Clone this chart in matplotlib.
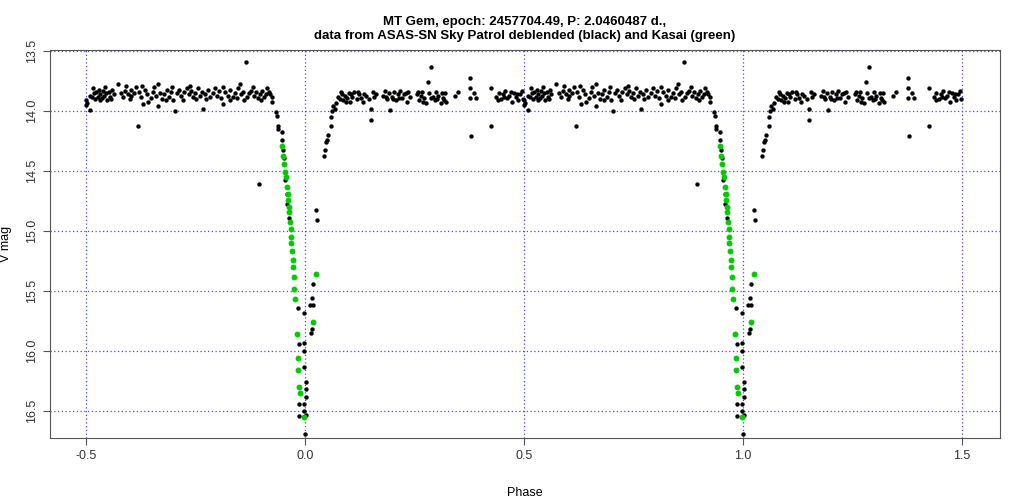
import numpy as np
import matplotlib
matplotlib.use('Agg')
import matplotlib.pyplot as plt

plt.rcParams['font.family'] = ['Liberation Sans', 'DejaVu Sans']

# ASAS-SN (black), phase in [-0.5, 0.5)
plateau_left = [
    (-0.500, 13.91), (-0.499, 13.95), (-0.497, 13.93), (-0.491, 13.87), (-0.490, 13.99), (-0.486, 13.88),
    (-0.482, 13.85), (-0.479, 13.90), (-0.476, 13.84), (-0.473, 13.88), (-0.470, 13.82), (-0.467, 13.86),
    (-0.464, 13.89), (-0.461, 13.83), (-0.458, 13.87), (-0.455, 13.85), (-0.452, 13.91), (-0.448, 13.84),
    (-0.445, 13.88), (-0.441, 13.82), (-0.437, 13.86), (-0.426, 13.77), (-0.421, 13.85), (-0.415, 13.88),
    (-0.411, 13.83), (-0.405, 13.86), (-0.400, 13.90), (-0.396, 13.82), (-0.391, 13.85), (-0.386, 13.80),
    (-0.381, 14.12), (-0.378, 13.84), (-0.374, 13.88), (-0.369, 13.94), (-0.366, 13.82), (-0.361, 13.86),
    (-0.352, 13.89), (-0.346, 13.84), (-0.340, 13.87), (-0.335, 13.77), (-0.335, 13.96), (-0.331, 13.85),
    (-0.326, 13.90), (-0.321, 13.86), (-0.316, 13.82), (-0.311, 13.88), (-0.306, 13.84), (-0.301, 13.91),
    (-0.297, 14.00), (-0.293, 13.85), (-0.288, 13.82), (-0.282, 13.87), (-0.275, 13.84), (-0.270, 13.81),
    (-0.265, 13.86), (-0.260, 13.83), (-0.255, 13.88), (-0.250, 13.85), (-0.245, 13.81), (-0.240, 13.87),
    (-0.236, 13.84), (-0.232, 13.98), (-0.228, 13.86), (-0.222, 13.82), (-0.216, 13.88), (-0.210, 13.85),
    (-0.201, 13.87), (-0.196, 13.83), (-0.191, 13.89), (-0.186, 13.94), (-0.182, 13.84), (-0.176, 13.87),
    (-0.170, 13.82), (-0.165, 13.88), (-0.160, 13.85), (-0.156, 13.89), (-0.149, 13.77), (-0.146, 13.86),
    (-0.141, 13.84), (-0.135, 13.59), (-0.132, 13.88), (-0.127, 13.85), (-0.122, 13.83), (-0.117, 13.87),
    (-0.112, 13.84), (-0.108, 13.89), (-0.103, 13.86), (-0.098, 13.83), (-0.093, 13.88), (-0.088, 13.86),
    (-0.082, 13.84), (-0.076, 13.88), (-0.075, 13.92),
    (-0.484, 13.81), (-0.468, 13.91), (-0.457, 13.80), (-0.443, 13.90), (-0.409, 13.79), (-0.398, 13.87),
    (-0.372, 13.79), (-0.358, 13.92), (-0.344, 13.80), (-0.318, 13.91), (-0.304, 13.80), (-0.279, 13.91),
    (-0.262, 13.79), (-0.248, 13.90), (-0.226, 13.90), (-0.206, 13.81), (-0.188, 13.80), (-0.172, 13.91),
    (-0.152, 13.81), (-0.138, 13.91), (-0.119, 13.80), (-0.101, 13.91), (-0.086, 13.81), (-0.079, 13.86),
]
eclipse_black = [
    (-0.0662, 14.01), (-0.0647, 14.04), (-0.0624, 14.12), (-0.0609, 14.15), (-0.0525, 14.17), (-0.0518, 14.24),
    (-0.0494, 14.32), (-0.0479, 14.39), (-0.0457, 14.57), (-0.0419, 14.69), (-0.0404, 14.77), (-0.0358, 14.89),
    (-0.1042, 14.61), (-0.0150, 15.64), (-0.0015, 15.68), (-0.0129, 15.94), (-0.0030, 15.93), (-0.0015, 16.00),
    (-0.0030, 16.13), (0.0015, 16.26), (0.0015, 16.32), (0.0015, 16.38), (-0.0030, 16.44), (-0.0137, 16.44),
    (-0.0030, 16.50), (-0.0137, 16.54), (0.0015, 16.53), (0.0000, 16.69), (0.0114, 15.62), (0.0190, 15.62),
    (0.0152, 15.56), (0.0190, 15.44), (0.0129, 15.85), (0.0167, 15.82), (0.0259, 14.82), (0.0266, 14.91),
    (0.0432, 14.37), (0.0449, 14.32), (0.0479, 14.26), (0.0510, 14.24), (0.0525, 14.20), (0.0586, 14.12),
    (0.0586, 14.05), (0.0609, 14.00), (0.0647, 13.96), (0.0677, 13.98),
]
plateau_right = [
    (0.072, 13.93), (0.076, 13.88), (0.080, 13.90), (0.084, 13.86), (0.088, 13.91), (0.092, 13.87),
    (0.096, 13.89), (0.100, 13.85), (0.104, 13.92), (0.108, 13.88), (0.113, 13.84), (0.118, 13.90),
    (0.123, 13.86), (0.128, 13.89), (0.133, 13.92), (0.140, 13.87), (0.146, 13.90), (0.152, 14.07),
    (0.152, 13.98), (0.155, 13.84), (0.158, 13.88), (0.163, 13.86), (0.179, 13.87), (0.183, 13.83),
    (0.187, 13.90), (0.191, 13.85), (0.194, 13.99), (0.198, 13.88), (0.203, 13.84), (0.208, 13.91),
    (0.212, 13.86), (0.217, 13.83), (0.222, 13.89), (0.227, 13.86), (0.232, 13.92), (0.236, 13.84),
    (0.240, 13.88), (0.255, 13.86), (0.260, 13.91), (0.264, 13.87), (0.268, 13.84), (0.272, 13.89),
    (0.277, 13.93), (0.281, 13.76), (0.284, 13.85), (0.289, 13.63), (0.292, 13.88), (0.296, 13.91),
    (0.300, 13.84), (0.305, 13.87), (0.310, 13.93), (0.315, 13.89), (0.320, 13.85), (0.323, 13.92),
    (0.342, 13.87), (0.349, 13.84), (0.377, 13.72), (0.377, 13.81), (0.378, 13.89), (0.379, 14.21),
    (0.386, 13.85), (0.390, 13.89), (0.426, 13.81), (0.426, 14.12), (0.437, 13.88), (0.442, 13.85),
    (0.447, 13.90), (0.452, 13.86), (0.457, 13.83), (0.462, 13.89), (0.467, 13.87), (0.472, 13.92),
    (0.477, 13.85), (0.482, 13.88), (0.487, 13.91), (0.492, 13.86), (0.497, 13.90),
    (0.082, 13.84), (0.094, 13.92), (0.106, 13.86), (0.121, 13.84), (0.136, 13.86), (0.185, 13.88),
    (0.201, 13.90), (0.215, 13.89), (0.230, 13.85), (0.258, 13.84), (0.270, 13.92), (0.287, 13.89),
    (0.302, 13.90), (0.313, 13.85), (0.318, 13.91), (0.440, 13.91), (0.455, 13.88), (0.470, 13.84),
    (0.485, 13.86), (0.495, 13.83),
]
# Kasai (green)
kasai = [
    (-0.0518, 14.29), (-0.0494, 14.37), (-0.0472, 14.44), (-0.0449, 14.51), (-0.0434, 14.55), (-0.0419, 14.63),
    (-0.0396, 14.69), (-0.0388, 14.74), (-0.0373, 14.80), (-0.0358, 14.84), (-0.0342, 14.92), (-0.0327, 14.98),
    (-0.0320, 15.05), (-0.0312, 15.10), (-0.0289, 15.17), (-0.0282, 15.24), (-0.0274, 15.30), (-0.0259, 15.38),
    (-0.0244, 15.48), (-0.0228, 15.57), (-0.0183, 15.86), (-0.0160, 16.06), (-0.0152, 16.16), (-0.0137, 16.30),
    (-0.0122, 16.35), (-0.0023, 16.55), (0.0244, 15.36), (0.0193, 15.76),
]

black = np.array(plateau_left + eclipse_black + plateau_right)
green = np.array(kasai)

fig = plt.figure(figsize=(10.24, 5.01), dpi=100)
ax = fig.add_axes([50 / 1024, (501 - 438) / 501, 950 / 1024, 388 / 501])

for shift in (0, 1):
    ax.scatter(black[:, 0] + shift, black[:, 1], s=10, c='black', linewidths=0, zorder=3)
    ax.scatter(green[:, 0] + shift, green[:, 1], s=18, c='#00cc00', linewidths=0, zorder=3)

ax.set_xlim(-0.582, 1.587)
ax.set_ylim(16.725, 13.49)
ax.set_xticks([-0.5, 0.0, 0.5, 1.0, 1.5])
ax.set_yticks([13.5, 14.0, 14.5, 15.0, 15.5, 16.0, 16.5])
ax.set_xticklabels(['-0.5', '0.0', '0.5', '1.0', '1.5'])
ax.set_yticklabels(['13.5', '14.0', '14.5', '15.0', '15.5', '16.0', '16.5'], rotation=90, va='center')
ax.tick_params(labelsize=9, labelcolor='#333333', color='#555555', length=5)
ax.set_axisbelow(True)
# grid lines drawn explicitly at the tick positions
for xv in ax.get_xticks():
    ax.axvline(xv, color='#4444ff', linestyle=(0, (1, 2)), linewidth=0.9, zorder=1)
for yv in ax.get_yticks():
    ax.axhline(yv, color='#4444ff', linestyle=(0, (1, 2)), linewidth=0.9, zorder=1)
for sp in ax.spines.values():
    sp.set_color('#555555')
ax.set_xlabel('Phase', fontsize=9, labelpad=18)
ax.set_ylabel('V mag', fontsize=9, labelpad=10)
ax.set_title('MT Gem, epoch: 2457704.49, P: 2.0460487 d.,\ndata from ASAS-SN Sky Patrol deblended (black) and Kasai (green)',
             fontsize=9.5, fontweight='bold', pad=8)

fig.savefig('out.png', dpi=100)
